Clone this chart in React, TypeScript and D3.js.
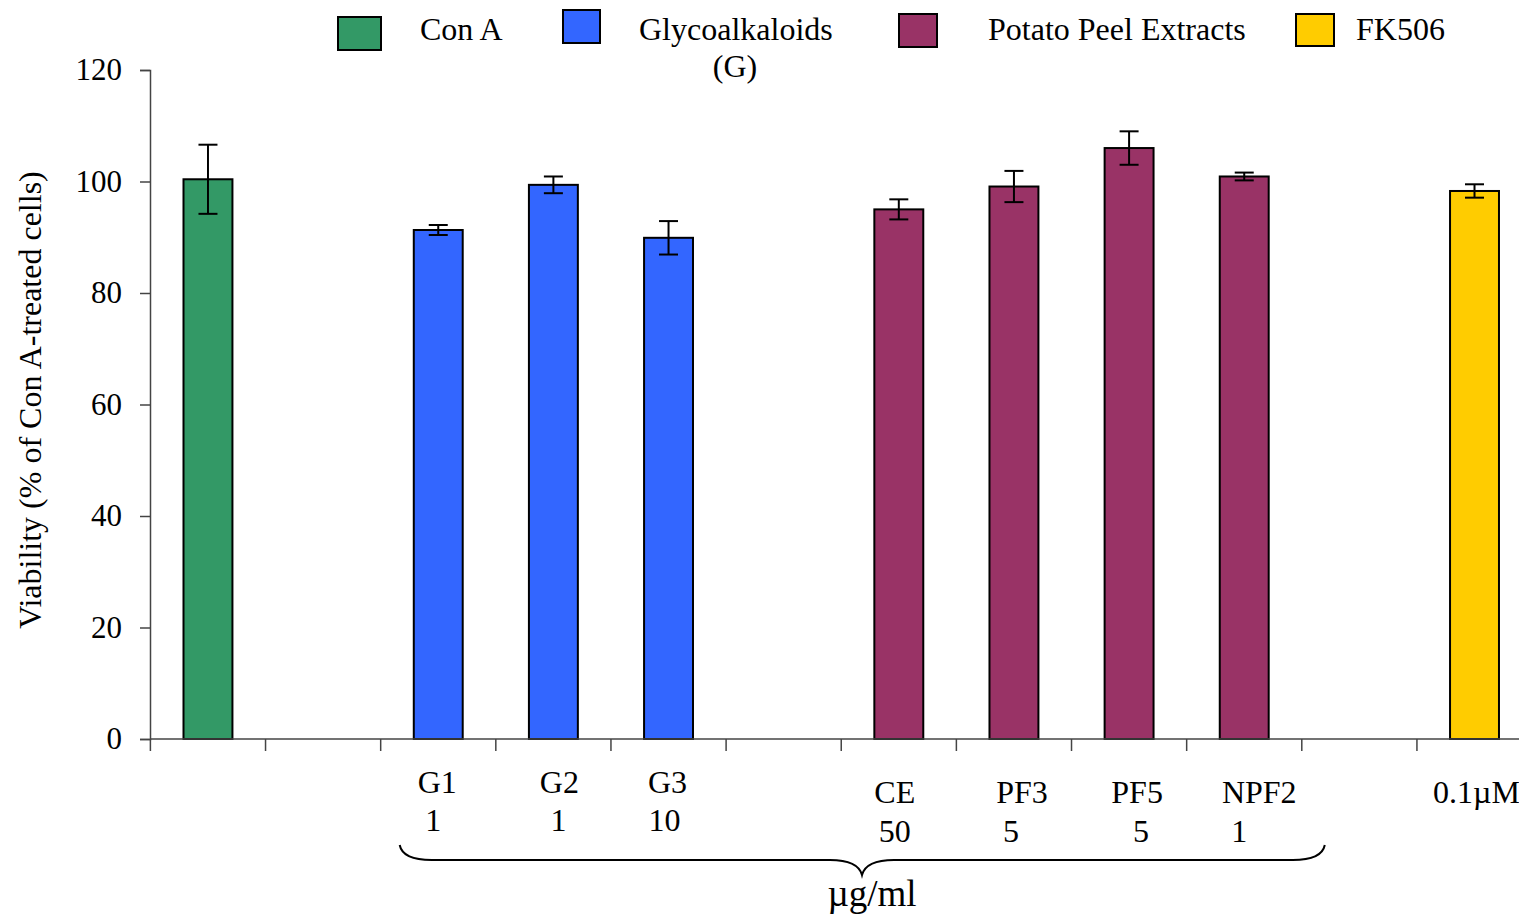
import React, { useEffect, useRef } from "react";
import * as d3 from "d3";

const W = 1519;
const H = 917;
const margin = { top: 70, right: 0, bottom: 178, left: 150 };
const font = "'Liberation Serif', 'Times New Roman', serif";

// slots along the x axis (gaps are empty slots)
const slots = ["Con A", "gap1", "G1", "G2", "G3", "gap2", "CE", "PF3", "PF5", "NPF2", "gap3", "FK506"];

const bars = ["Con A", "G1", "G2", "G3", "CE", "PF3", "PF5", "NPF2", "FK506"];
const viability = [100.4, 91.3, 99.4, 89.9, 95.0, 99.1, 106.0, 100.9, 98.3];
const errors = [6.2, 0.9, 1.5, 3.0, 1.8, 2.8, 3.0, 0.7, 1.2];
const barGroup = ["Con A", "Glycoalkaloids", "Glycoalkaloids", "Glycoalkaloids", "Potato Peel Extracts", "Potato Peel Extracts", "Potato Peel Extracts", "Potato Peel Extracts", "FK506"];

const groups = ["Con A", "Glycoalkaloids", "Potato Peel Extracts", "FK506"];
const groupColors = ["#339966", "#3366FF", "#993366", "#FFCC00"];

const yTicks = [0, 20, 40, 60, 80, 100, 120];

const labelSlots = ["G1", "G2", "G3", "CE", "PF3", "PF5", "NPF2", "FK506"];
const labelNames = ["G1", "G2", "G3", "CE", "PF3", "PF5", "NPF2", "0.1\u00b5M"];
const labelDoses = ["1", "1", "10", "50", "5", "5", "1", ""];

// layout tweaks for the tick labels (name dx, dose dx, row)
const nameDx = [-1, 6, -1, -4, 8, 8, 15, 2];
const doseDx = [-5, 5, -4, -4, -3, 12, -5, 0];
const labelRow = [0, 0, 0, 1, 1, 1, 1, 1];

// legend layout
const legendSwatch = [
  { x: 338, y: 17, w: 43, h: 33 },
  { x: 563, y: 10, w: 37, h: 33 },
  { x: 899, y: 14, w: 38, h: 33 },
  { x: 1296, y: 14, w: 38, h: 32 },
];
const legendTextX = [420, 639, 988, 1356];

export default function App() {
  const ref = useRef<SVGSVGElement>(null);

  useEffect(() => {
    const svg = d3.select(ref.current);
    svg.selectAll("*").remove();

    const plotH = H - margin.top - margin.bottom;

    const x = d3.scaleBand<string>()
      .domain(slots)
      .range([margin.left + 0.4, margin.left + 0.4 + 115.14 * slots.length])
      .padding(0);

    const y = d3.scaleLinear()
      .domain([0, 120])
      .range([margin.top + plotH, margin.top]);

    const barW = x.bandwidth() * 0.425;
    const color = d3.scaleOrdinal<string, string>().domain(groups).range(groupColors);

    // bars
    svg.append("g")
      .selectAll("rect")
      .data(bars)
      .enter().append("rect")
      .attr("x", (d) => x(d)! + x.bandwidth() / 2 - barW / 2)
      .attr("y", (d, i) => y(viability[i]))
      .attr("width", barW)
      .attr("height", (d, i) => y(0) - y(viability[i]))
      .attr("fill", (d, i) => color(barGroup[i]))
      .attr("stroke", "#000")
      .attr("stroke-width", 2);

    // error bars
    const eb = svg.append("g").attr("stroke", "#000").attr("stroke-width", 2);
    bars.forEach((b, i) => {
      const cx = x(b)! + x.bandwidth() / 2;
      const hi = y(viability[i] + errors[i]);
      const lo = y(viability[i] - errors[i]);
      eb.append("line").attr("x1", cx).attr("x2", cx).attr("y1", hi).attr("y2", lo);
      eb.append("line").attr("x1", cx - 9.5).attr("x2", cx + 9.5).attr("y1", hi).attr("y2", hi);
      eb.append("line").attr("x1", cx - 9.5).attr("x2", cx + 9.5).attr("y1", lo).attr("y2", lo);
    });

    // y axis
    const yAxis = svg.append("g")
      .attr("transform", `translate(${margin.left},0)`)
      .call(d3.axisLeft(y).tickValues(yTicks).tickSize(10).tickPadding(18));
    yAxis.select(".domain").attr("stroke", "#444").attr("stroke-width", 1.5);
    yAxis.selectAll(".tick line").attr("stroke", "#444").attr("stroke-width", 1.5);
    yAxis.selectAll("text")
      .attr("fill", "#000")
      .style("font-family", font)
      .style("font-size", "31px");

    // x axis line with slot boundary ticks
    const xa = svg.append("g").attr("stroke", "#444").attr("stroke-width", 1.5);
    xa.append("line")
      .attr("x1", margin.left).attr("x2", W)
      .attr("y1", y(0)).attr("y2", y(0));
    slots.forEach((s) => {
      const tx = x(s)!;
      xa.append("line").attr("x1", tx).attr("x2", tx).attr("y1", y(0)).attr("y2", y(0) + 12);
    });

    // tick labels
    const rowY = [[793, 831], [803, 842]];
    labelSlots.forEach((s, i) => {
      const cx = x(s)! + x.bandwidth() / 2;
      const r = rowY[labelRow[i]];
      svg.append("text")
        .attr("x", cx + nameDx[i]).attr("y", r[0])
        .attr("text-anchor", "middle")
        .style("font-family", font).style("font-size", "32px")
        .text(labelNames[i]);
      if (labelDoses[i]) {
        svg.append("text")
          .attr("x", cx + doseDx[i]).attr("y", r[1])
          .attr("text-anchor", "middle")
          .style("font-family", font).style("font-size", "32px")
          .text(labelDoses[i]);
      }
    });

    // brace under the extract groups
    const bx1 = x("G1")! + 19;
    const bx2 = x("NPF2")! + x.bandwidth() + 23;
    const bm = 862;
    const path = d3.path();
    path.moveTo(bx1, 845);
    path.quadraticCurveTo(bx1 + 3, 860, bx1 + 32, 860);
    path.lineTo(bm - 32, 860);
    path.quadraticCurveTo(bm - 4, 860, bm, 875);
    path.quadraticCurveTo(bm + 4, 860, bm + 32, 860);
    path.lineTo(bx2 - 32, 860);
    path.quadraticCurveTo(bx2 - 3, 860, bx2, 845);
    svg.append("path")
      .attr("d", path.toString())
      .attr("fill", "none")
      .attr("stroke", "#000")
      .attr("stroke-width", 2);

    svg.append("text")
      .attr("x", 872).attr("y", 906)
      .attr("text-anchor", "middle")
      .style("font-family", font).style("font-size", "37px")
      .text("\u00b5g/ml");

    // y axis title
    svg.append("text")
      .attr("transform", `translate(41,${400}) rotate(-90)`)
      .attr("text-anchor", "middle")
      .style("font-family", font).style("font-size", "32px")
      .text("Viability (% of Con A-treated cells)");

    // legend
    groups.forEach((g, i) => {
      const s = legendSwatch[i];
      svg.append("rect")
        .attr("x", s.x).attr("y", s.y).attr("width", s.w).attr("height", s.h)
        .attr("fill", groupColors[i]).attr("stroke", "#000").attr("stroke-width", 2);
      svg.append("text")
        .attr("x", legendTextX[i]).attr("y", 40)
        .style("font-family", font).style("font-size", "32px")
        .text(g);
    });
    svg.append("text")
      .attr("x", 735).attr("y", 77)
      .attr("text-anchor", "middle")
      .style("font-family", font).style("font-size", "32px")
      .text("(G)");
  }, []);

  return (
    <svg
      ref={ref}
      width={W}
      height={H}
      style={{ position: "absolute", left: 0, top: 0, background: "#fff" }}
    />
  );
}
